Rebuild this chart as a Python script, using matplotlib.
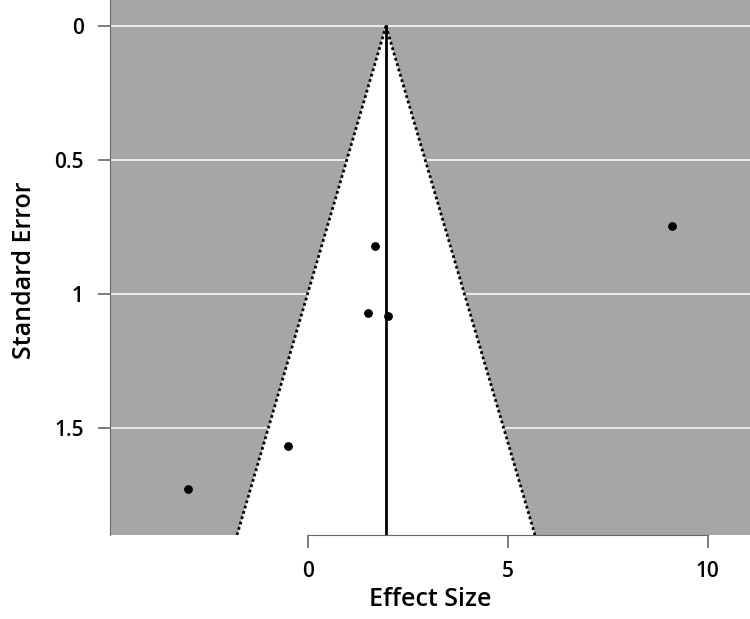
import numpy as np
import matplotlib
matplotlib.use("Agg")
import matplotlib.pyplot as plt

# study effects and standard errors
effect = [9.12, 1.69, 1.51, 2.00, -0.50, -3.00]
se = [0.746, 0.823, 1.072, 1.082, 1.566, 1.729]
center = 1.96   # pooled estimate (apex of funnel)
z = 1.96
se_max = 1.9
yticks = [0, 0.5, 1, 1.5]
ytick_labels = ["0", "0.5", "1", "1.5"]
xticks = [0, 5, 10]

plt.rcParams['font.family'] = ['Open Sans', 'DejaVu Sans']
plt.rcParams['font.weight'] = 'semibold'
F = 15
GRAY = "#a6a6a6"

fig = plt.figure(figsize=(7.5, 6.19), dpi=100)
ax = fig.add_axes([110/750, (619-535)/619, 1-110/750, 535/619])
ax.set_facecolor(GRAY)

ax.set_xlim(-4.94, 11.06)
ax.set_ylim(se_max, -0.097)

for yv in yticks:
	ax.axhline(yv, color="#ececec", lw=1.4, zorder=1)

# funnel (95% region)
fx = [center - z*se_max, center, center + z*se_max]
fy = [se_max, 0, se_max]
ax.fill(fx, fy, color="white", zorder=2, lw=0)
ax.plot(fx[:2], fy[:2], color="black", ls=(0, (1, 1)), lw=2, zorder=3)
ax.plot(fx[1:], fy[1:], color="black", ls=(0, (1, 1)), lw=2, zorder=3)
ax.plot([center, center], [0, se_max], color="black", lw=2, zorder=3)

ax.scatter(effect, se, s=28, color="black", zorder=4)

for sp in ["top", "right"]:
	ax.spines[sp].set_visible(False)
ax.spines["left"].set_color("#666666")
ax.spines["bottom"].set_color("#666666")
ax.spines["left"].set_bounds(se_max, -0.097)
ax.spines["bottom"].set_bounds(0, 10)

ax.set_yticks(yticks)
ax.set_yticklabels(ytick_labels)
ax.set_xticks(xticks)
ax.tick_params(axis="both", length=9, width=1.2, color="#666666", labelsize=F)
ax.tick_params(axis="y", pad=10)
ax.tick_params(axis="x", pad=10)

ax.set_xlabel("Effect Size", fontsize=18, fontweight='semibold', va='center')
ax.set_ylabel("Standard Error", fontsize=18, fontweight='semibold', va='center')
ax.xaxis.set_label_coords((430-110)/640, -(600-535)/535)
ax.yaxis.set_label_coords(-(110-25)/640, (535-270)/535)

plt.savefig("out.png", dpi=100)
